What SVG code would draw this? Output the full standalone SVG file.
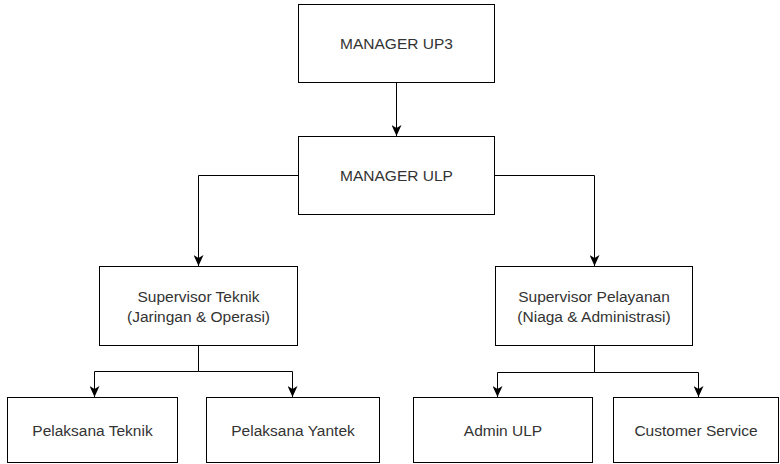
<svg xmlns="http://www.w3.org/2000/svg" width="780" height="464" viewBox="0 0 780 464">
<style>
.box{fill:#fff;stroke:#000;stroke-width:1}
.t{font-family:"Liberation Sans",Arial,sans-serif;font-size:15.5px;fill:#333;text-anchor:middle;dominant-baseline:central}
.c{fill:none;stroke:#000;stroke-width:1}
</style>
<defs>
<marker id="arr" viewBox="0 0 11 10" refX="11" refY="5" markerWidth="11" markerHeight="10" markerUnits="userSpaceOnUse" orient="auto">
<path d="M0,0 L11,5 L0,10 L3,5 Z" fill="#000"/>
</marker>
</defs>
<g id="connectors">
<path class="c" d="M396.5,82.5 V136" marker-end="url(#arr)"/>
<path class="c" d="M298.5,175.5 H198.5 V266" marker-end="url(#arr)"/>
<path class="c" d="M494.5,175.5 H594.5 V266" marker-end="url(#arr)"/>
<path class="c" d="M198.5,345.5 V371.5 H94.5 V397" marker-end="url(#arr)"/>
<path class="c" d="M198.5,371.5 H292.5 V397" marker-end="url(#arr)"/>
<path class="c" d="M594.5,345.5 V372.5 H497.5 V397" marker-end="url(#arr)"/>
<path class="c" d="M594.5,372.5 H698.5 V397" marker-end="url(#arr)"/>
</g>
<g id="manager-up3">
<rect class="box" x="298.5" y="4.5" width="196" height="78"/>
<text class="t" x="396.5" y="43.5">MANAGER UP3</text>
</g>
<g id="manager-ulp">
<rect class="box" x="298.5" y="136.5" width="196" height="78"/>
<text class="t" x="396.5" y="175.5">MANAGER ULP</text>
</g>
<g id="supervisor-teknik">
<rect class="box" x="99.5" y="266.5" width="198" height="79"/>
<text class="t" x="198.5" y="296.5">Supervisor Teknik</text>
<text class="t" x="198.5" y="316.5">(Jaringan &amp; Operasi)</text>
</g>
<g id="supervisor-pelayanan">
<rect class="box" x="495.5" y="266.5" width="197" height="79"/>
<text class="t" x="594" y="296.5">Supervisor Pelayanan</text>
<text class="t" x="594" y="316.5">(Niaga &amp; Administrasi)</text>
</g>
<g id="pelaksana-teknik">
<rect class="box" x="7.5" y="397.5" width="170" height="65"/>
<text class="t" x="92.5" y="430">Pelaksana Teknik</text>
</g>
<g id="pelaksana-yantek">
<rect class="box" x="206.5" y="397.5" width="173" height="65"/>
<text class="t" x="293" y="430">Pelaksana Yantek</text>
</g>
<g id="admin-ulp">
<rect class="box" x="413.5" y="397.5" width="179" height="65"/>
<text class="t" x="503" y="430">Admin ULP</text>
</g>
<g id="customer-service">
<rect class="box" x="613.5" y="397.5" width="165" height="65"/>
<text class="t" x="696" y="430">Customer Service</text>
</g>
</svg>
